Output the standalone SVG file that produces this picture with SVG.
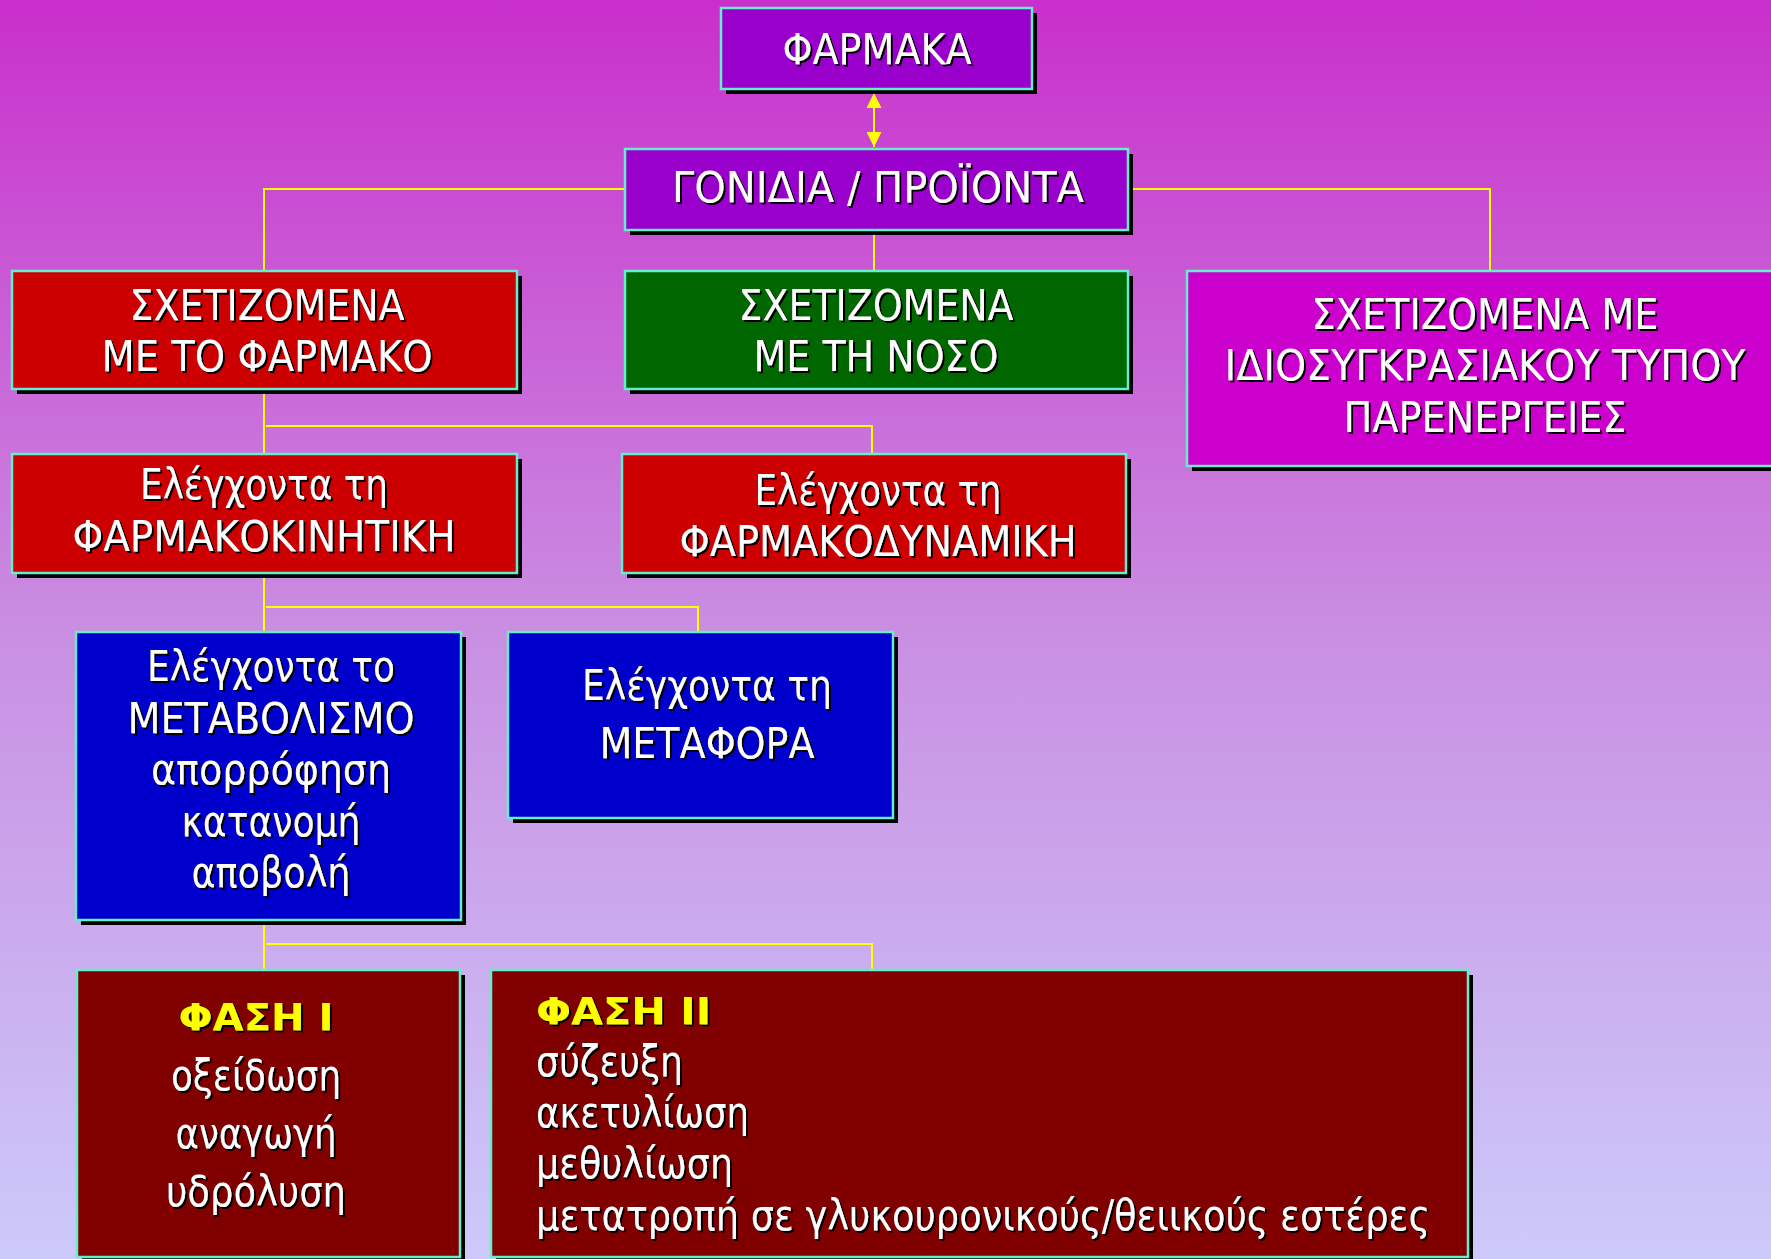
<svg xmlns="http://www.w3.org/2000/svg" width="1771" height="1259" viewBox="0 0 1771 1259">
  <defs>
    <linearGradient id="bg" x1="0" y1="0" x2="0" y2="1">
      <stop offset="0" stop-color="#C92FCB"/>
      <stop offset="0.5" stop-color="#C98EE2"/>
      <stop offset="1" stop-color="#CCCAFA"/>
    </linearGradient>
    <filter id="txtShadow" x="-1%" y="-10%" width="102%" height="125%">
      <feDropShadow dx="2" dy="2" stdDeviation="0" flood-color="#000000" flood-opacity="1"/>
    </filter>
    <marker id="tri" viewBox="0 0 10 10" refX="10" refY="5" markerWidth="15" markerHeight="15" markerUnits="userSpaceOnUse" orient="auto-start-reverse">
      <path d="M0,0 L10,5 L0,10 Z" fill="#FFFF00"/>
    </marker>
    <style>
      .shadow { fill: #000000; }
      .box { stroke: #66EECC; stroke-width: 2.5; }
      .violet { fill: #9900CC; }
      .red { fill: #CC0000; }
      .green { fill: #006600; }
      .magenta { fill: #CC00CC; }
      .blue { fill: #0000CC; }
      .brown { fill: #800000; }
      .lbl { font-family: "DejaVu Sans", "Noto Sans", sans-serif; font-size: 43px; fill: #FFFFFF; filter: url(#txtShadow); }
      .mid { text-anchor: middle; }
      .head { font-family: "DejaVu Sans", "Noto Sans", sans-serif; font-weight: bold; font-size: 38px; fill: #FFFF00; filter: url(#txtShadow); }
      .wire { fill: none; stroke: #FFFF00; stroke-width: 2; }
    </style>
  </defs>

  <rect x="0" y="0" width="1771" height="1259" fill="url(#bg)"/>

  <!-- connectors -->
  <g id="connectors">
    <line class="wire" x1="874" y1="93" x2="874" y2="147" marker-start="url(#tri)" marker-end="url(#tri)"/>
    <polyline class="wire" points="625,189 264,189 264,271"/>
    <polyline class="wire" points="1129,189 1490,189 1490,271"/>
    <line class="wire" x1="874" y1="230" x2="874" y2="271"/>
    <line class="wire" x1="264" y1="389" x2="264" y2="454"/>
    <polyline class="wire" points="266,426 872,426 872,454"/>
    <line class="wire" x1="264" y1="573" x2="264" y2="632"/>
    <polyline class="wire" points="266,607 698,607 698,632"/>
    <line class="wire" x1="264" y1="920" x2="264" y2="970"/>
    <polyline class="wire" points="266,944 872,944 872,970"/>
  </g>

  <!-- top node -->
  <g id="node-farmaka">
    <rect class="shadow" x="726" y="13" width="311" height="81"/>
    <rect class="box violet" x="721" y="8" width="311" height="81"/>
    <text class="lbl mid" x="877" y="64" textLength="189" lengthAdjust="spacingAndGlyphs">ΦΑΡΜΑΚΑ</text>
  </g>

  <g id="node-gonidia">
    <rect class="shadow" x="630" y="154" width="503" height="81"/>
    <rect class="box violet" x="625" y="149" width="503" height="81"/>
    <text class="lbl mid" x="878" y="202" textLength="412" lengthAdjust="spacingAndGlyphs">ΓΟΝΙΔΙΑ / ΠΡΟΪΟΝΤΑ</text>
  </g>

  <g id="node-drug">
    <rect class="shadow" x="17" y="276" width="505" height="118"/>
    <rect class="box red" x="12" y="271" width="505" height="118"/>
    <text class="lbl mid" x="267" y="320" textLength="275" lengthAdjust="spacingAndGlyphs">ΣΧΕΤΙΖΟΜΕΝΑ</text>
    <text class="lbl mid" x="267" y="371" textLength="331" lengthAdjust="spacingAndGlyphs">ΜΕ ΤΟ ΦΑΡΜΑΚΟ</text>
  </g>

  <g id="node-disease">
    <rect class="shadow" x="630" y="276" width="503" height="118"/>
    <rect class="box green" x="625" y="271" width="503" height="118"/>
    <text class="lbl mid" x="876" y="320" textLength="275" lengthAdjust="spacingAndGlyphs">ΣΧΕΤΙΖΟΜΕΝΑ</text>
    <text class="lbl mid" x="876" y="371" textLength="245" lengthAdjust="spacingAndGlyphs">ΜΕ ΤΗ ΝΟΣΟ</text>
  </g>

  <g id="node-idiosyncratic">
    <rect class="shadow" x="1192" y="276" width="600" height="195"/>
    <rect class="box magenta" x="1187" y="271" width="600" height="195"/>
    <text class="lbl mid" x="1485" y="329" textLength="347" lengthAdjust="spacingAndGlyphs">ΣΧΕΤΙΖΟΜΕΝΑ ΜΕ</text>
    <text class="lbl mid" x="1485" y="380" textLength="521" lengthAdjust="spacingAndGlyphs">ΙΔΙΟΣΥΓΚΡΑΣΙΑΚΟΥ ΤΥΠΟΥ</text>
    <text class="lbl mid" x="1485" y="432" textLength="283" lengthAdjust="spacingAndGlyphs">ΠΑΡΕΝΕΡΓΕΙΕΣ</text>
  </g>

  <g id="node-pharmacokinetics">
    <rect class="shadow" x="17" y="459" width="505" height="119"/>
    <rect class="box red" x="12" y="454" width="505" height="119"/>
    <text class="lbl mid" x="264" y="499" textLength="248" lengthAdjust="spacingAndGlyphs">Ελέγχοντα τη</text>
    <text class="lbl mid" x="264" y="551" textLength="383" lengthAdjust="spacingAndGlyphs">ΦΑΡΜΑΚΟΚΙΝΗΤΙΚΗ</text>
  </g>

  <g id="node-pharmacodynamics">
    <rect class="shadow" x="627" y="459" width="504" height="119"/>
    <rect class="box red" x="622" y="454" width="504" height="119"/>
    <text class="lbl mid" x="878" y="505" textLength="247" lengthAdjust="spacingAndGlyphs">Ελέγχοντα τη</text>
    <text class="lbl mid" x="878" y="556" textLength="397" lengthAdjust="spacingAndGlyphs">ΦΑΡΜΑΚΟΔΥΝΑΜΙΚΗ</text>
  </g>

  <g id="node-metabolism">
    <rect class="shadow" x="81" y="637" width="385" height="288"/>
    <rect class="box blue" x="76" y="632" width="385" height="288"/>
    <text class="lbl mid" x="271" y="681" textLength="248" lengthAdjust="spacingAndGlyphs">Ελέγχοντα το</text>
    <text class="lbl mid" x="271" y="733" textLength="287" lengthAdjust="spacingAndGlyphs">ΜΕΤΑΒΟΛΙΣΜΟ</text>
    <text class="lbl mid" x="271" y="784" textLength="240" lengthAdjust="spacingAndGlyphs">απορρόφηση</text>
    <text class="lbl mid" x="271" y="836" textLength="179" lengthAdjust="spacingAndGlyphs">κατανομή</text>
    <text class="lbl mid" x="271" y="887" textLength="159" lengthAdjust="spacingAndGlyphs">αποβολή</text>
  </g>

  <g id="node-transport">
    <rect class="shadow" x="513" y="637" width="385" height="186"/>
    <rect class="box blue" x="508" y="632" width="385" height="186"/>
    <text class="lbl mid" x="707" y="700" textLength="250" lengthAdjust="spacingAndGlyphs">Ελέγχοντα τη</text>
    <text class="lbl mid" x="707" y="758" textLength="215" lengthAdjust="spacingAndGlyphs">ΜΕΤΑΦΟΡΑ</text>
  </g>

  <g id="node-phase1">
    <rect class="shadow" x="82" y="975" width="383" height="287"/>
    <rect class="box brown" x="77" y="970" width="383" height="287"/>
    <text class="head mid" x="256" y="1030" textLength="155" lengthAdjust="spacingAndGlyphs">ΦΑΣΗ Ι</text>
    <text class="lbl mid" x="256" y="1090" textLength="170" lengthAdjust="spacingAndGlyphs">οξείδωση</text>
    <text class="lbl mid" x="256" y="1148" textLength="161" lengthAdjust="spacingAndGlyphs">αναγωγή</text>
    <text class="lbl mid" x="256" y="1206" textLength="180" lengthAdjust="spacingAndGlyphs">υδρόλυση</text>
  </g>

  <g id="node-phase2">
    <rect class="shadow" x="496" y="975" width="977" height="287"/>
    <rect class="box brown" x="491" y="970" width="977" height="287"/>
    <text class="head" x="536" y="1024" textLength="175" lengthAdjust="spacingAndGlyphs">ΦΑΣΗ ΙΙ</text>
    <text class="lbl" x="536" y="1076" textLength="147" lengthAdjust="spacingAndGlyphs">σύζευξη</text>
    <text class="lbl" x="536" y="1127" textLength="213" lengthAdjust="spacingAndGlyphs">ακετυλίωση</text>
    <text class="lbl" x="536" y="1178" textLength="197" lengthAdjust="spacingAndGlyphs">μεθυλίωση</text>
    <text class="lbl" x="536" y="1230" textLength="894" lengthAdjust="spacingAndGlyphs">μετατροπή σε γλυκουρονικούς/θειικούς εστέρες</text>
  </g>
</svg>
